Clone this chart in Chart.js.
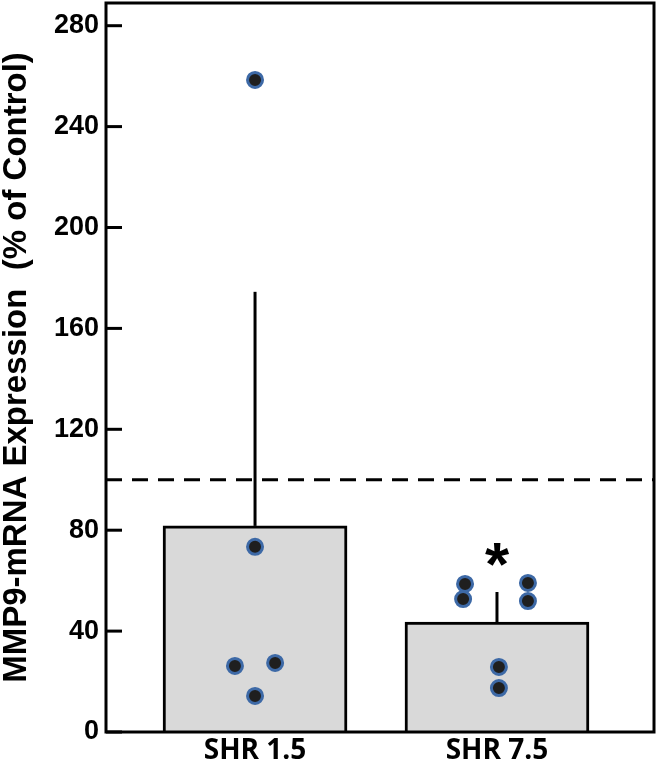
<!DOCTYPE html>
<html>
<head>
<meta charset="utf-8">
<script src="https://cdn.jsdelivr.net/npm/chart.js@4.4.1/dist/chart.umd.min.js"></script>
<style>
  html, body { margin: 0; padding: 0; background: #fff; }
  #wrap { width: 657px; height: 768px; position: relative; }
</style>
</head>
<body>
<div id="wrap"><canvas id="myChart"></canvas></div>
<script>
// group labels and bar heights (% of control)
const categories = ['SHR 1.5', 'SHR 7.5'];
const groupX = [1, 2];
const means = [81.7, 43.6];
const sdUpper = [92.8, 11.9];          // error bar goes up only
const stars = ['', '*'];
const starY = [0, 70];
const controlLevel = 100;              // dashed reference line

// individual animals
const dots1X = [1.0, 1.0, 0.917, 1.083, 1.0];
const dots1Y = [258.5, 73.4, 26.2, 27.4, 14.3];
const dots2X = [1.868, 1.86, 2.128, 2.128, 2.008, 2.008];
const dots2Y = [58.7, 52.7, 59.1, 51.9, 25.8, 17.4];

const yTicks = [0, 40, 80, 120, 160, 200, 240, 280];

const tickFont = { family: '"Liberation Sans", Arial, sans-serif', size: 27, weight: 'bold' };
const catFont = { family: '"Open Sans", sans-serif', size: 28, weight: 'bold' };

// frame, inner tick marks, dashed control line, error bars, asterisk
const extras = {
  id: 'extras',
  afterDatasetsDraw(chart) {
    const ctx = chart.ctx;
    const a = chart.chartArea;
    const xs = chart.scales.x, ys = chart.scales.y;
    ctx.save();
    ctx.strokeStyle = '#000';
    ctx.lineWidth = 3;

    // dashed line at 100 %
    const yc = ys.getPixelForValue(controlLevel);
    ctx.setLineDash([16, 10]);
    ctx.beginPath();
    ctx.moveTo(a.left, yc);
    ctx.lineTo(a.right, yc);
    ctx.stroke();
    ctx.setLineDash([]);

    // error bars
    for (let i = 0; i < means.length; i++) {
      const x = xs.getPixelForValue(groupX[i]);
      ctx.beginPath();
      ctx.moveTo(x, ys.getPixelForValue(means[i]));
      ctx.lineTo(x, ys.getPixelForValue(means[i] + sdUpper[i]));
      ctx.stroke();
    }

    // tick marks pointing into the plot
    ys.ticks.forEach(t => {
      const y = ys.getPixelForValue(t.value);
      ctx.beginPath();
      ctx.moveTo(a.left, y);
      ctx.lineTo(a.left + 16, y);
      ctx.stroke();
    });

    // box round the plot
    ctx.strokeRect(a.left, a.top, a.right - a.left, a.bottom - a.top);

    // significance mark
    ctx.fillStyle = '#000';
    ctx.font = 'bold 62px "Liberation Sans", Arial, sans-serif';
    ctx.textAlign = 'center';
    ctx.textBaseline = 'middle';
    for (let i = 0; i < stars.length; i++) {
      if (!stars[i]) continue;
      ctx.fillText(stars[i], xs.getPixelForValue(groupX[i]), ys.getPixelForValue(starY[i]) + 12);
    }
    ctx.restore();
  }
};

const dotStyle = {
  type: 'scatter',
  pointRadius: 7.5,
  pointHoverRadius: 7.5,
  pointBackgroundColor: '#1f1f1f',
  pointBorderColor: '#3d69a6',
  pointBorderWidth: 3,
  order: 1
};

new Chart(document.getElementById('myChart').getContext('2d'), {
  data: {
    datasets: [
      {
        type: 'bar',
        data: groupX.map((x, i) => ({ x: x, y: means[i] })),
        backgroundColor: '#d9d9d9',
        borderColor: '#000',
        borderWidth: 3,
        barThickness: 184,
        order: 2
      },
      Object.assign({ data: dots1X.map((x, i) => ({ x: x, y: dots1Y[i] })) }, dotStyle),
      Object.assign({ data: dots2X.map((x, i) => ({ x: x, y: dots2Y[i] })) }, dotStyle)
    ]
  },
  options: {
    responsive: true,
    maintainAspectRatio: false,
    animation: false,
    layout: { autoPadding: false, padding: { top: 3, right: 3, left: 0, bottom: 0 } },
    plugins: { legend: { display: false }, tooltip: { enabled: false } },
    scales: {
      x: {
        type: 'linear',
        min: 0.384,
        max: 2.649,
        offset: false,
        grid: { display: false, drawTicks: false, offset: false },
        border: { display: false },
        afterBuildTicks: s => { s.ticks = groupX.map(v => ({ value: v })); },
        afterFit: s => { s.height = 36; s.paddingLeft = 0; s.paddingRight = 0; },
        ticks: {
          color: '#000',
          font: catFont,
          padding: 2,
          maxRotation: 0,
          callback: v => categories[groupX.indexOf(v)]
        }
      },
      y: {
        min: 0,
        max: 289,
        grid: { display: false, drawTicks: false },
        border: { display: false },
        afterBuildTicks: s => { s.ticks = yTicks.map(v => ({ value: v })); },
        afterFit: s => { s.width = 106; s.paddingTop = 0; s.paddingBottom = 0; },
        ticks: { color: '#000', font: tickFont, padding: 7 },
        title: {
          display: true,
          text: 'MMP9-mRNA Expression  (% of Control)',
          color: '#000',
          font: { family: '"Liberation Sans", Arial, sans-serif', size: 33, weight: 'bold', lineHeight: 1 },
          padding: { top: 0, bottom: 0 }
        }
      }
    }
  },
  plugins: [extras]
});
</script>
</body>
</html>
